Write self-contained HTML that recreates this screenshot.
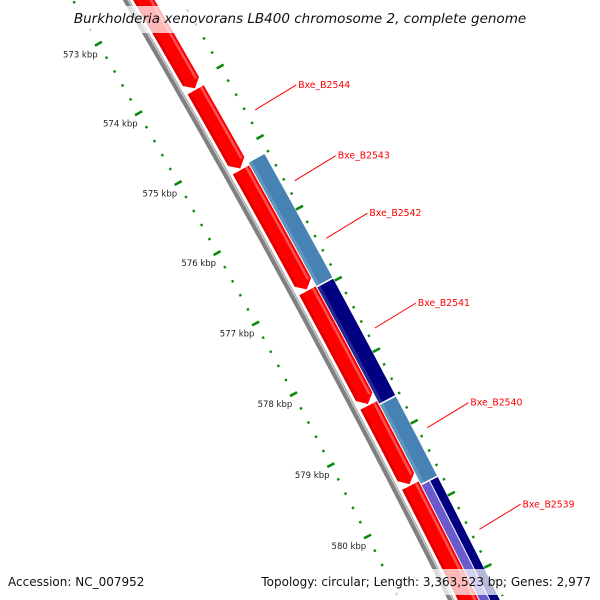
<!DOCTYPE html>
<html><head><meta charset="utf-8"><style>
html,body{margin:0;padding:0;background:#fff;width:600px;height:600px;overflow:hidden;}
svg{display:block;font-family:"DejaVu Sans","Liberation Sans",sans-serif;overflow:hidden;}
</style></head><body>
<svg id="map" width="600" height="600" viewBox="0 0 600 600" xmlns="http://www.w3.org/2000/svg">
<g id="ticks"></g>
<g id="backbone"></g>
<g id="features"></g>
<g id="labels"></g>
<rect x="68" y="6" width="464" height="27" fill="#fff" fill-opacity="0.72"/>
<text x="300" y="23" text-anchor="middle" font-size="13.5" font-style="italic" fill="#111">Burkholderia xenovorans LB400 chromosome 2, complete genome</text>
<rect x="3" y="569" width="146" height="26" fill="#fff" fill-opacity="0.72"/>
<text x="8" y="586" font-size="12" fill="#111">Accession: NC_007952</text>
<rect x="256" y="569" width="341" height="26" fill="#fff" fill-opacity="0.72"/>
<text x="591" y="586" text-anchor="end" font-size="12" fill="#111">Topology: circular; Length: 3,363,523 bp; Genes: 2,977</text>
</svg>
<script>
// data (kbp)
const majorTicks = [571,572,573,574,575,576,577,578,579,580,581,582];
const tickLabels = ["571 kbp","572 kbp","573 kbp","574 kbp","575 kbp","576 kbp","577 kbp","578 kbp","579 kbp","580 kbp","581 kbp","582 kbp"];
const forwardStarts = [570.0, 574.10, 575.24, 576.95, 578.56, 579.68];
const forwardEnds   = [574.08, 575.22, 576.93, 578.54, 579.66, 583.0];
const reverseStarts = [575.21, 576.97, 578.62, 579.74];
const reverseEnds   = [576.95, 578.60, 579.72, 583.0];
const reverseColors = ["#4682b4","#000080","#4682b4","split"];
const geneNames = ["Bxe_B2544","Bxe_B2543","Bxe_B2542","Bxe_B2541","Bxe_B2540","Bxe_B2539"];
const labelAnchors = [574.68, 575.68, 576.49, 577.75, 579.14, 580.55];

const NS="http://www.w3.org/2000/svg";
const CX=-8660.6, CY=5148.5, R=10184;
function ang(k){return (-29.78+(k-574)*0.4533)*Math.PI/180;}
function pt(k,r){const a=ang(k);return [CX+r*Math.cos(a),CY+r*Math.sin(a)];}
function f(p){return p[0].toFixed(2)+" "+p[1].toFixed(2);}
function band(k1,k2,r1,r2){
  return "M"+f(pt(k1,r2))+" A"+r2+" "+r2+" 0 0 1 "+f(pt(k2,r2))+" L"+f(pt(k2,r1))+" A"+r1+" "+r1+" 0 0 0 "+f(pt(k1,r1))+" Z";
}
function arrow(k1,k2,r1,r2){
  const a=0.1;
  return "M"+f(pt(k1,r2))+" A"+r2+" "+r2+" 0 0 1 "+f(pt(k2-a,r2))+" L"+f(pt(k2,(r1+r2)/2))+" L"+f(pt(k2-a,r1))+" A"+r1+" "+r1+" 0 0 0 "+f(pt(k1,r1))+" Z";
}
function arcLine(k1,k2,r){return "M"+f(pt(k1,r))+" A"+r+" "+r+" 0 0 1 "+f(pt(k2,r));}
function mk(tag,attrs,parent){const e=document.createElementNS(NS,tag);for(const k in attrs)e.setAttribute(k,attrs[k]);parent.appendChild(e);return e;}

// ticks
const tg=document.getElementById("ticks");
const rin=R-46, rout=R+48;
for(let i=0;i<majorTicks.length;i++){
  for(let s=0;s<5;s++){
    const k=majorTicks[i]+s*0.2;
    const len = s===0?4:1.2;
    [rin,rout].forEach(function(rr){
      const a=pt(k,rr-len), b=pt(k,rr+len);
      const t=mk("line",{x1:a[0],y1:a[1],x2:b[0],y2:b[1],stroke:"#0a8a0a","stroke-width":s===0?2.6:2.4},tg);
      
      
    });
  }
  const lp=pt(majorTicks[i],R-67);
  const tx=mk("text",{x:lp[0],y:lp[1]+3,"text-anchor":"middle","font-size":"8.5",fill:"#222"},tg);
  tx.textContent=tickLabels[i];
  
  
}

// backbone
const bg=document.getElementById("backbone");
const b1=mk("path",{d:arcLine(569,584,R),stroke:"#808080","stroke-width":6,fill:"none"},bg);


const b2=mk("path",{d:arcLine(569,584,R+1.8),stroke:"#c4c4c4","stroke-width":1.6,fill:"none"},bg);



// features
const fg=document.getElementById("features");
for(let i=0;i<forwardStarts.length;i++){
  const p=mk("path",{d:arrow(forwardStarts[i],forwardEnds[i],R+6,R+24.5),fill:"#ff0000"},fg);
  
  
  const h=mk("path",{d:band(forwardStarts[i],forwardEnds[i]-0.1,R+6,R+9),fill:"#e00000"},fg);
  
  
  const h2=mk("path",{d:band(forwardStarts[i],forwardEnds[i]-0.1,R+20,R+22.5),fill:"#ff5050"},fg);
  
  
}
for(let i=0;i<reverseStarts.length;i++){
  if(reverseColors[i]==="split"){
    const p1=mk("path",{d:band(reverseStarts[i],reverseEnds[i],R+25.5,R+34),fill:"#6a5acd"},fg);
    
    
    const p2=mk("path",{d:band(reverseStarts[i],reverseEnds[i],R+35,R+43.5),fill:"#000080"},fg);
    
    
  } else {
    const p=mk("path",{d:band(reverseStarts[i],reverseEnds[i],R+25.5,R+43.5),fill:reverseColors[i]},fg);
    
    
    const h=mk("path",{d:band(reverseStarts[i],reverseEnds[i],R+25.5,R+29),fill:"#ffffff","fill-opacity":"0.15"},fg);
    
    
  }
}

// gene labels
const lg=document.getElementById("labels");
for(let i=0;i<geneNames.length;i++){
  const a=pt(labelAnchors[i],R+57);
  const b=[a[0]+41,a[1]-25];
  const l=mk("line",{x1:a[0],y1:a[1],x2:b[0],y2:b[1],stroke:"#ff0000","stroke-width":1},lg);
  
  
  const t=mk("text",{x:b[0]+2,y:b[1]+3,"font-size":"9.3",fill:"#ff0000"},lg);
  t.textContent=geneNames[i];
  
  
}
</script>
</body></html>
